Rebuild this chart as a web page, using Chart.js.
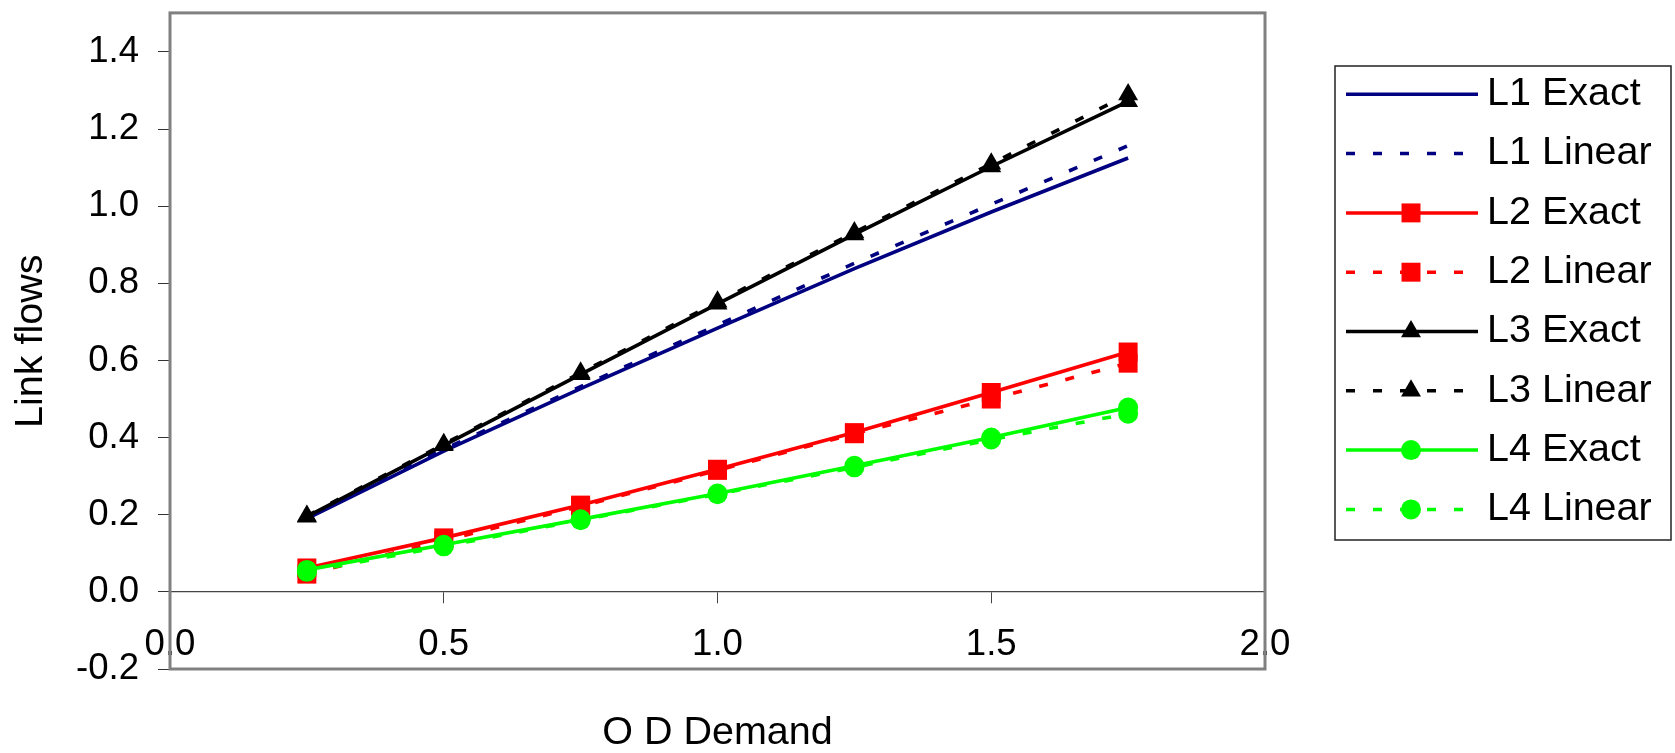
<!DOCTYPE html>
<html>
<head>
<meta charset="utf-8">
<script src="https://cdn.jsdelivr.net/npm/chart.js@4/dist/chart.umd.min.js"></script>
<style>
  html, body { margin: 0; padding: 0; background: #ffffff; }
  #wrap { width: 1675px; height: 753px; position: relative; }
</style>
</head>
<body>
<div id="wrap"><canvas id="c" width="1675" height="753"></canvas></div>
<script>
// ---- data ----
const odDemand = [0.25, 0.5, 0.75, 1.0, 1.25, 1.5, 1.75];
const l1Exact  = [0.190, 0.365, 0.527, 0.684, 0.838, 0.985, 1.125];
const l1Linear = [0.195, 0.370, 0.532, 0.692, 0.852, 1.005, 1.157];
const l2Exact  = [0.062, 0.140, 0.225, 0.318, 0.413, 0.517, 0.622];
const l2Linear = [0.046, 0.133, 0.222, 0.315, 0.410, 0.500, 0.593];
const l3Exact  = [0.195, 0.380, 0.564, 0.747, 0.927, 1.103, 1.272];
const l3Linear = [0.197, 0.383, 0.568, 0.752, 0.932, 1.110, 1.290];
const l4Exact  = [0.057, 0.122, 0.188, 0.255, 0.327, 0.400, 0.478];
const l4Linear = [0.052, 0.118, 0.186, 0.253, 0.323, 0.395, 0.462];

const seriesLabels = ['L1 Exact', 'L1 Linear', 'L2 Exact', 'L2 Linear', 'L3 Exact', 'L3 Linear', 'L4 Exact', 'L4 Linear'];
const xTicks = [0.0, 0.5, 1.0, 1.5, 2.0];
const yTicks = [-0.2, 0.0, 0.2, 0.4, 0.6, 0.8, 1.0, 1.2, 1.4];
const xTitle = 'O D Demand';
const yTitle = 'Link flows';

// ---- styling ----
const FONT = '"Liberation Sans", Arial, Helvetica, sans-serif';
const FS = 36.6;      // tick labels
const FS_T = 39.5;    // titles and legend
const DASH = [9, 18];
const seriesValues = [l1Exact, l1Linear, l2Exact, l2Linear, l3Exact, l3Linear, l4Exact, l4Linear];
const styles = [
  {color: '#000080', dash: [], point: 'circle', r: 0},
  {color: '#000080', dash: DASH, point: 'circle', r: 0},
  {color: '#ff0000', dash: [], point: 'rect', r: 13.4},
  {color: '#ff0000', dash: DASH, point: 'rect', r: 13.4},
  {color: '#000000', dash: [], point: 'triangle', r: 11.5},
  {color: '#000000', dash: DASH, point: 'triangle', r: 11.5},
  {color: '#00ff00', dash: [], point: 'circle', r: 10},
  {color: '#00ff00', dash: DASH, point: 'circle', r: 10}
];

const datasets = seriesValues.map((vals, i) => ({
  label: seriesLabels[i],
  data: odDemand.map((x, j) => ({x: x, y: vals[j]})),
  borderColor: styles[i].color,
  backgroundColor: styles[i].color,
  pointBackgroundColor: styles[i].color,
  pointBorderColor: styles[i].color,
  pointBorderWidth: 0,
  borderWidth: 3.6,
  borderDash: styles[i].dash,
  pointStyle: styles[i].point,
  pointRadius: styles[i].r,
  pointHoverRadius: styles[i].r,
  tension: 0,
  fill: false,
  order: seriesValues.length - i,
  clip: false
}));

const framePlugin = {
  id: 'plotFrame',
  beforeDatasetsDraw(chart) {
    const {ctx, chartArea: a} = chart;
    ctx.save();
    ctx.strokeStyle = '#808080';
    ctx.lineWidth = 3;
    ctx.strokeRect(a.left, a.top - 0.5, a.right - a.left, a.bottom - a.top + 0.5);
    ctx.restore();
  }
};

const legendPlugin = {
  id: 'boxLegend',
  afterDraw(chart) {
    const ctx = chart.ctx;
    ctx.save();
    ctx.strokeStyle = '#222222';
    ctx.lineWidth = 1.5;
    ctx.strokeRect(1335, 66, 336, 474);
    chart.data.datasets.forEach((ds, i) => {
      const y = 94.3 + i * 59.3;
      ctx.beginPath();
      ctx.setLineDash(ds.borderDash);
      ctx.strokeStyle = ds.borderColor;
      ctx.lineWidth = 3.5;
      ctx.moveTo(1346, y);
      ctx.lineTo(1478, y);
      ctx.stroke();
      ctx.setLineDash([]);
      if (ds.pointRadius > 0) {
        ctx.fillStyle = ds.pointBackgroundColor;
        ctx.strokeStyle = ds.pointBorderColor;
        Chart.helpers.drawPoint(ctx, {pointStyle: ds.pointStyle, radius: ds.pointRadius, borderWidth: 0, rotation: 0}, 1411, y);
      }
      ctx.fillStyle = '#000000';
      ctx.font = FS_T + 'px ' + FONT;
      ctx.textAlign = 'left';
      ctx.textBaseline = 'middle';
      ctx.fillText(ds.label, 1487, y);
    });
    ctx.restore();
  }
};

new Chart(document.getElementById('c'), {
  type: 'line',
  data: { datasets: datasets },
  plugins: [framePlugin, legendPlugin],
  options: {
    responsive: false,
    devicePixelRatio: 1,
    animation: false,
    events: [],
    layout: { padding: { top: 9, right: 410, bottom: 0, left: 0 } },
    plugins: { legend: { display: false }, tooltip: { enabled: false }, title: { display: false } },
    scales: {
      x: {
        type: 'linear',
        position: { y: 0 },
        min: 0, max: 2,
        afterFit: (s) => { s.height = 0; s.paddingLeft = 0; s.paddingRight = 0; s.paddingTop = 0; s.paddingBottom = 0; },
        afterBuildTicks: (s) => { s.ticks = xTicks.map(v => ({value: v})); },
        grid: { drawOnChartArea: false, drawTicks: true, tickLength: 11, color: '#444444', lineWidth: 1 },
        border: { display: true, color: '#444444', width: 1.3 },
        ticks: {
          padding: 20,
          color: '#000000',
          maxRotation: 0,
          autoSkip: false,
          font: { family: FONT, size: FS },
          callback: (v) => Number(v).toFixed(1)
        },
        title: { display: false }
      },
      x2: {
        type: 'linear',
        position: 'bottom',
        min: 0, max: 2,
        afterFit: (s) => { s.height = 84; s.paddingLeft = 0; s.paddingRight = 0; },
        grid: { display: false, drawTicks: false },
        border: { display: false },
        ticks: { display: false },
        title: {
          display: true, text: xTitle, color: '#000000',
          font: { family: FONT, size: FS_T, lineHeight: 1.0 },
          padding: { top: 0, bottom: 0 }
        }
      },
      y: {
        type: 'linear',
        position: 'left',
        min: -0.2, max: 1.5,
        afterFit: (s) => { s.width = 170; s.paddingTop = 0; s.paddingBottom = 0; },
        afterBuildTicks: (s) => { s.ticks = yTicks.map(v => ({value: v})); },
        grid: { drawOnChartArea: false, drawTicks: true, tickLength: 12, color: '#333333', lineWidth: 1 },
        border: { display: false },
        ticks: {
          padding: 19,
          color: '#000000',
          autoSkip: false,
          font: { family: FONT, size: FS },
          callback: (v) => Number(v).toFixed(1)
        },
        title: {
          display: true, text: yTitle, color: '#000000',
          font: { family: FONT, size: FS_T },
          padding: { top: 7, bottom: 0 }
        }
      }
    }
  }
});
</script>
</body>
</html>
